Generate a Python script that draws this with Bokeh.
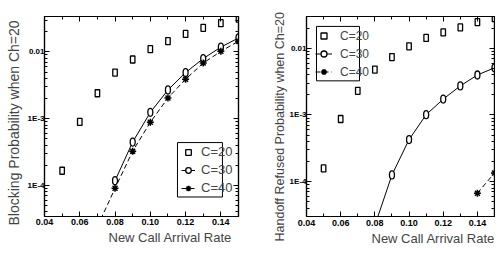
from bokeh.plotting import figure
from bokeh.models import (FixedTicker, LogAxis, LinearAxis, Range1d, Legend,
                          LegendItem, BoxAnnotation, Title)
from bokeh.layouts import row
from bokeh.embed import file_html
from bokeh.resources import INLINE

# ---------------- data ----------------
rate = [0.05, 0.06, 0.07, 0.08, 0.09, 0.10, 0.11, 0.12, 0.13, 0.14, 0.15]

block_c20 = [1.65e-4, 8.9e-4, 2.4e-3, 4.9e-3, 7.7e-3, 1.10e-2, 1.45e-2, 1.86e-2, 2.30e-2, 2.70e-2, 3.15e-2]
block_c30_rate = [0.08, 0.09, 0.10, 0.11, 0.12, 0.13, 0.14, 0.15]
block_c30 = [1.17e-4, 4.45e-4, 1.24e-3, 2.69e-3, 4.9e-3, 7.96e-3, 1.18e-2, 1.62e-2]
block_c40_rate = [0.07, 0.08, 0.09, 0.10, 0.11, 0.12, 0.13, 0.14, 0.15]
block_c40 = [2.4e-5, 9.0e-5, 3.25e-4, 8.8e-4, 2.04e-3, 3.9e-3, 6.8e-3, 1.02e-2, 1.45e-2]

hand_c20 = [1.58e-4, 8.7e-4, 2.3e-3, 4.8e-3, 7.4e-3, 1.07e-2, 1.43e-2, 1.73e-2, 2.06e-2, 2.47e-2, 2.83e-2]
hand_c30_rate = [0.08, 0.09, 0.10, 0.11, 0.12, 0.13, 0.14, 0.15]
hand_c30 = [2.2e-5, 1.26e-4, 4.27e-4, 1.01e-3, 1.73e-3, 2.73e-3, 3.98e-3, 5.1e-3]
hand_c40_rate = [0.14, 0.15]
hand_c40 = [6.7e-5, 1.35e-4]

series_labels = ["C=20", "C=30", "C=40"]
x_ticks = [0.04, 0.06, 0.08, 0.10, 0.12, 0.14]
x_tick_labels = ["0.04", "0.06", "0.08", "0.10", "0.12", "0.14"]
y_ticks = [1e-4, 1e-3, 1e-2]
y_tick_labels = ["1E-4", "1E-3", "0.01"]
x_title = "New Call Arrival Rate"
y_title_left = "Blocking Probability when Ch=20"
y_title_right = "Handoff Refused Probability when Ch=20"

FONT = "Liberation Sans"
y_minor = [k * 10.0 ** e for e in (-5, -4, -3, -2) for k in range(2, 10)]


def tickers():
    xt = FixedTicker(ticks=x_ticks, minor_ticks=rate)
    yt = FixedTicker(ticks=y_ticks, minor_ticks=y_minor)
    return xt, yt


def style_axis(ax):
    ax.axis_line_color = "black"
    ax.axis_line_width = 1.2
    ax.major_tick_in = 5
    ax.major_tick_out = 0
    ax.minor_tick_in = 3
    ax.minor_tick_out = 0
    ax.major_tick_line_color = "black"
    ax.minor_tick_line_color = "black"
    ax.major_label_text_font = FONT
    ax.major_label_text_font_style = "bold"
    ax.major_label_text_color = "black"


def make_plot(width, height, y_lo, y_hi, borders, c20, c30x, c30, c40x, c40, xlab_standoff):
    bl, br, bt, bb = borders
    p = figure(width=width, height=height, x_range=Range1d(0.04, 0.15),
               y_range=Range1d(y_lo, y_hi), y_axis_type="log",
               output_backend="svg", toolbar_location=None,
               min_border_left=bl, min_border_right=br,
               min_border_top=bt, min_border_bottom=bb)
    p.grid.visible = False
    p.outline_line_color = "black"
    p.outline_line_width = 1.2
    p.background_fill_color = "white"
    p.border_fill_color = "white"

    xt, yt = tickers()
    p.xaxis.ticker = xt
    p.yaxis.ticker = yt
    p.xaxis.major_label_overrides = dict(zip(x_ticks, x_tick_labels))
    p.yaxis.major_label_overrides = dict(zip(y_ticks, y_tick_labels))
    for ax in (p.xaxis[0], p.yaxis[0]):
        style_axis(ax)
    p.xaxis.major_label_text_font_size = "9px"
    p.xaxis.major_label_standoff = xlab_standoff
    p.yaxis.major_label_text_font_size = "8px"
    p.yaxis.major_label_standoff = 0

    # mirrored ticks on top and right
    top = LinearAxis(ticker=xt)
    right = LogAxis(ticker=yt)
    for ax in (top, right):
        style_axis(ax)
        ax.major_label_text_font_size = "0px"
        ax.major_label_text_color = None
        ax.major_label_standoff = 0
    p.add_layout(top, "above")
    p.add_layout(right, "right")

    # series
    p.rect(rate, c20, width=4.5, height=7, width_units="screen",
           height_units="screen", fill_color=None, line_color="black", line_width=1.3)
    sq_proxy = p.scatter(rate, c20, marker="square", size=0, fill_color=None,
                         line_color="black", line_width=1.3)

    l30 = p.line(c30x, c30, line_color="black", line_width=1)
    p.ellipse(c30x, c30, width=5, height=8, width_units="screen",
              height_units="screen", fill_color="white", line_color="black", line_width=1.3)
    c_proxy = p.scatter(c30x, c30, marker="circle", size=0, fill_color="white",
                        line_color="black", line_width=1.3)

    l40 = p.line(c40x, c40, line_color="black", line_width=1, line_dash="5 3")
    ast = p.scatter(c40x, c40, marker="asterisk", size=7, line_color="black",
                    line_width=1.5)

    items = [LegendItem(label=series_labels[0], renderers=[sq_proxy]),
             LegendItem(label=series_labels[1], renderers=[l30, c_proxy]),
             LegendItem(label=series_labels[2], renderers=[l40, ast])]
    return p, items


# ---------------- left panel ----------------
p1, items1 = make_plot(252, 245, 3.4e-5, 0.034, (44, 14, 16, 27),
                       block_c20, block_c30_rate, block_c30,
                       block_c40_rate, block_c40, 2)
p1.add_layout(Title(text=y_title_left, align="left", offset=-9, standoff=6,
                    vertical_align="bottom", text_font=FONT, text_font_size="14px",
                    text_font_style="normal"), "left")
p1.add_layout(Title(text=x_title, align="left", offset=64, standoff=0,
                    vertical_align="bottom", text_font=FONT, text_font_size="13px",
                    text_font_style="normal"), "below")
leg1 = Legend(items=items1, location=(137, 21), glyph_width=14, glyph_height=14,
              label_height=14, spacing=3, padding=2, margin=0, label_standoff=6,
              border_line_color=None, background_fill_alpha=0,
              label_text_font=FONT, label_text_font_size="13px")
p1.add_layout(leg1)
p1.add_layout(BoxAnnotation(left=0.1154, right=0.1409, bottom=6.67e-5, top=4.37e-4,
                            fill_alpha=0, line_color="black", line_alpha=1, line_width=1))

# ---------------- right panel ----------------
p2, items2 = make_plot(243, 245, 3.0e-5, 0.030, (54, 1, 15, 28),
                       hand_c20, hand_c30_rate, hand_c30,
                       hand_c40_rate, hand_c40, 3)
p2.add_layout(Title(text=y_title_right, align="left", offset=-25, standoff=0,
                    vertical_align="bottom", text_font=FONT, text_font_size="12.5px",
                    text_font_style="normal"), "left")
p2.add_layout(Title(text=x_title, align="left", offset=65, standoff=0,
                    vertical_align="bottom", text_font=FONT, text_font_size="13px",
                    text_font_style="normal"), "below")
leg2 = Legend(items=items2, location=(9, 137), glyph_width=17, glyph_height=15,
              label_height=15, spacing=3, padding=1, margin=0, label_standoff=8,
              border_line_color=None, background_fill_alpha=0,
              label_text_font=FONT, label_text_font_size="12px")
p2.add_layout(leg2)
p2.add_layout(BoxAnnotation(left=0.04585, right=0.07101, bottom=3.25e-3, top=0.0213,
                            fill_alpha=0, line_color="black", line_alpha=1, line_width=1))

layout = row(p1, p2)
open("out.html", "w").write(file_html(layout, INLINE))
